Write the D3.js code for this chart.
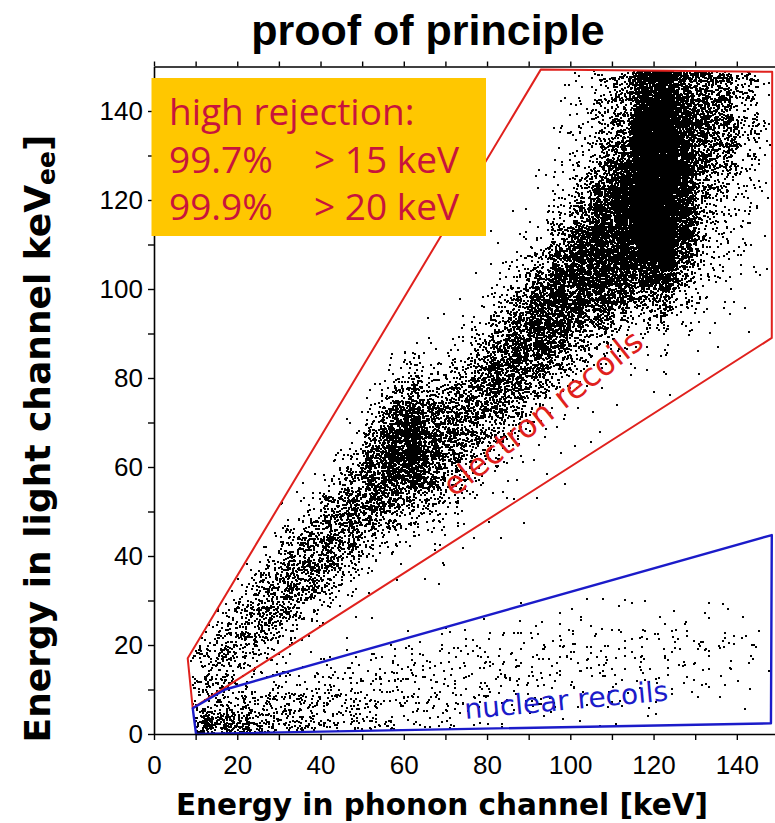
<!DOCTYPE html>
<html>
<head>
<meta charset="utf-8">
<script src="https://cdn.jsdelivr.net/npm/d3@7"></script>
<style>
  body { margin: 0; background: #fff; }
  svg { display: block; }
</style>
</head>
<body>
<svg id="chart" width="775" height="823"></svg>
<script>
// ---- axes ----------------------------------------------------------------
const tickKeV  = [0, 10, 20, 30, 40, 50, 60, 70, 80, 90, 100, 110, 120, 130, 140];
const labelKeV = [0, 20, 40, 60, 80, 100, 120, 140];

// ---- event density, 5 keV x 5 keV bins --------------------------------------
// Electron-recoil band: for each phonon bin (column) the first light bin that
// holds events and the event counts of the consecutive light bins above it.
const binKeV = 5;
const electronStart = [0, 1, 1, 2, 2, 3, 3, 4, 4, 4, 5, 6, 6, 6, 7, 8, 8, 9, 10, 11,
                       12, 13, 14, 15, 15, 16, 17, 17, 18, 20];
const electronCounts = [
  [],
  [5, 6, 3],
  [10, 40, 32, 9],
  [38, 52, 38, 14, 3],
  [4, 32, 65, 58, 22, 4],
  [10, 55, 80, 65, 28, 5],
  [2, 14, 58, 88, 76, 38, 10, 2],
  [2, 16, 72, 96, 76, 32, 8, 2],
  [1, 4, 28, 80, 108, 90, 44, 12, 3],
  [1, 1, 4, 26, 75, 108, 104, 60, 18, 4],
  [1, 1, 5, 26, 65, 128, 160, 128, 55, 13, 3],
  [1, 1, 10, 42, 115, 190, 230, 200, 110, 32, 6],
  [1, 1, 4, 18, 65, 215, 330, 320, 200, 72, 17, 4],
  [1, 1, 3, 11, 38, 88, 130, 130, 90, 38, 11, 3, 1],
  [1, 1, 4, 16, 44, 82, 110, 100, 62, 22, 7, 3, 1],
  [1, 1, 4, 12, 40, 82, 115, 105, 66, 26, 8, 3, 1],
  [1, 1, 1, 4, 14, 48, 100, 145, 145, 100, 42, 14, 5, 2, 1],
  [1, 1, 1, 4, 14, 48, 105, 162, 175, 126, 58, 18, 5, 3, 1],
  [1, 1, 1, 4, 14, 52, 120, 186, 210, 175, 90, 30, 8, 4, 3, 1],
  [1, 1, 1, 4, 14, 52, 120, 198, 240, 210, 132, 52, 15, 7, 5, 3, 3, 2, 1],
  [1, 1, 1, 4, 14, 48, 120, 210, 265, 250, 185, 90, 36, 18, 13, 9, 7, 6],
  [1, 1, 1, 5, 22, 95, 175, 250, 300, 290, 220, 145, 80, 45, 34, 28, 24],
  [1, 1, 1, 7, 30, 108, 215, 320, 370, 370, 320, 220, 110, 75, 62, 54],
  [1, 2, 5, 20, 70, 200, 480, 720, 800, 820, 820, 780, 640, 300, 240],
  [1, 2, 5, 22, 90, 260, 560, 850, 900, 900, 900, 880, 760, 500, 420],
  [1, 2, 6, 22, 60, 130, 260, 300, 300, 300, 290, 260, 200, 170],
  [1, 2, 6, 13, 22, 30, 38, 55, 110, 145, 150, 135, 120],
  [1, 1, 3, 6, 10, 13, 17, 27, 50, 82, 100, 95, 82],
  [1, 1, 2, 5, 6, 9, 13, 18, 27, 34, 34, 30],
  [1, 1, 1, 2, 3, 4, 4, 5, 5, 5]
];
// Nuclear-recoil band: counts of the light bins 0-30 keV for each phonon bin.
const nuclearCounts = [
  [0, 0, 0, 0, 0, 0], [10, 3, 0, 0, 0, 0], [140, 18, 1, 0, 0, 0], [120, 26, 3, 0, 0, 0],
  [90, 30, 5, 0, 0, 0], [58, 30, 7, 0, 0, 0], [44, 30, 10, 1, 0, 0], [34, 28, 11, 2, 0, 0],
  [26, 25, 12, 3, 0, 0], [20, 22, 13, 4, 0, 0], [16, 19, 13, 5, 0, 0], [12, 16, 13, 6, 1, 0],
  [9, 14, 12, 7, 1, 0], [8, 12, 11, 7, 2, 0], [6, 10, 11, 8, 2, 0], [5, 9, 10, 8, 3, 0],
  [4, 8, 10, 8, 3, 1], [3, 6, 9, 9, 4, 1], [2, 5, 8, 9, 4, 1], [2, 4, 7, 9, 5, 1],
  [1, 3, 7, 8, 5, 2], [1, 2, 6, 8, 5, 2], [1, 2, 6, 8, 5, 2], [1, 2, 5, 8, 5, 2],
  [0, 1, 5, 8, 6, 2], [0, 1, 4, 7, 5, 2], [0, 1, 4, 7, 5, 2], [0, 1, 3, 6, 5, 2],
  [0, 1, 2, 5, 4, 1], [0, 0, 1, 1, 1, 0]
];

// ---- acceptance regions (phonon keV, light keV) -----------------------------
const electronBox = [[8.1, 17], [92.9, 149.3], [148.5, 148.8], [148.4, 89], [9.3, 5.8]];
const nuclearBox  = [[9.3, 5.8], [17.1, 10], [148.4, 44.7], [148.2, 2.4], [10.1, 0]];
const gapRegion   = [[9.3, 5.8], [148.4, 89], [148.4, 44.7], [17.1, 10]];

// ---- scales ----------------------------------------------------------------
const x = d3.scaleLinear().domain([0, 150]).range([154, 778.45]);
const y = d3.scaleLinear().domain([0, 150]).range([734, 66.5]);

const svg = d3.select("#chart");

// Deterministic placement of each bin's events inside the bin: an integer
// hash gives the offsets, summed in pairs (tent shape) so that neighbouring
// bins blend into each other.
function hash01(i) {
  let h = Math.imul(i ^ 0x9e3779b9, 0x85ebca6b);
  h ^= h >>> 13; h = Math.imul(h, 0xc2b2ae35); h ^= h >>> 16;
  h = Math.imul(h ^ (h >>> 15), 0x2c1b3c6d); h ^= h >>> 12;
  return (h >>> 0) / 4294967296;
}
const spread = 0.75;
let seq = 0;
const events = [];
function fillBin(col, row, count) {
  for (let k = 0; k < count; k++, seq++) {
    const u = [0, 1, 2, 3].map(d => hash01(seq * 4 + d + 1));
    events.push([
      (col + 0.5 + (u[0] + u[1] - 1) * spread) * binKeV,
      (row + 0.5 + (u[2] + u[3] - 1) * spread) * binKeV
    ]);
  }
}
electronCounts.forEach((list, col) =>
  list.forEach((c, k) => fillBin(col, electronStart[col] + k, c)));
nuclearCounts.forEach((list, col) =>
  list.forEach((c, row) => fillBin(col, row, c)));

// only events inside the recorded region are drawn
const poly = p => p.map(d => [x(d[0]), y(d[1])].join(",")).join(" ");
const defs = svg.append("defs");
const clip = defs.append("clipPath").attr("id", "recorded");
[electronBox, nuclearBox, gapRegion].forEach(p => clip.append("polygon").attr("points", poly(p)));

let dPath = "";
for (const e of events) {
  const px = Math.round(x(e[0])) - 1, py = Math.round(y(e[1])) - 1;
  dPath += `M${px},${py}h2v2h-2z`;
}
svg.append("path")
  .attr("d", dPath)
  .attr("fill", "#000")
  .attr("shape-rendering", "crispEdges")
  .attr("clip-path", "url(#recorded)");

// acceptance region outlines
svg.append("polygon").attr("points", poly(electronBox))
  .attr("fill", "none").attr("stroke", "#e0211d").attr("stroke-width", 2)
  .attr("stroke-linejoin", "round");
svg.append("polygon").attr("points", poly(nuclearBox))
  .attr("fill", "none").attr("stroke", "#1b1bc9").attr("stroke-width", 2.4)
  .attr("stroke-linejoin", "round");

// ---- axes ------------------------------------------------------------------
const fmt = d => labelKeV.includes(d) ? d : "";
function styleAxis(g) {
  g.select(".domain").attr("stroke", "#000").attr("stroke-width", 1.6);
  g.selectAll(".tick line").attr("stroke", "#000").attr("stroke-width", 1.4);
  g.selectAll(".tick text").attr("fill", "#000")
    .attr("font-family", "'Liberation Sans', Arial, sans-serif").attr("font-size", 26);
}
svg.append("g").attr("transform", `translate(${x(0)},0)`)
  .call(d3.axisLeft(y).tickValues(tickKeV).tickFormat(fmt).tickSize(6).tickSizeOuter(0).tickPadding(5))
  .call(styleAxis);
svg.append("g").attr("transform", `translate(0,${y(0)})`)
  .call(d3.axisBottom(x).tickValues(tickKeV).tickFormat(fmt).tickSize(6).tickSizeOuter(0).tickPadding(16))
  .call(styleAxis);
svg.append("g").attr("transform", `translate(0,${y(150)})`)
  .call(d3.axisTop(x).tickValues(tickKeV).tickFormat("").tickSize(5).tickSizeOuter(0))
  .call(styleAxis);

// ---- rejection box ---------------------------------------------------------
svg.append("rect").attr("x", 151.5).attr("y", 78).attr("width", 334.5).attr("height", 158)
  .attr("fill", "#ffc700");
const boxText = svg.append("g").attr("fill", "#c8143c")
  .attr("font-family", "'Open Sans', 'Noto Sans', sans-serif").attr("font-size", 37);
boxText.append("text").attr("x", 169).attr("y", 125).text("high rejection:");
boxText.append("text").attr("x", 169).attr("y", 172.5).text("99.7%");
boxText.append("text").attr("x", 314).attr("y", 172.5).text("> 15 keV");
boxText.append("text").attr("x", 169).attr("y", 220).text("99.9%");
boxText.append("text").attr("x", 314).attr("y", 220).text("> 20 keV");

// ---- region labels ---------------------------------------------------------
svg.append("text")
  .attr("transform", "translate(543,413) rotate(-38.5)")
  .attr("text-anchor", "middle").attr("dominant-baseline", "central")
  .attr("font-family", "'DejaVu Sans', sans-serif").attr("font-size", 32)
  .attr("fill", "#e0211d").text("electron recoils");
svg.append("text")
  .attr("transform", "translate(567,709.7) rotate(-5.25)")
  .attr("text-anchor", "middle")
  .attr("font-family", "'DejaVu Sans', sans-serif").attr("font-size", 28)
  .attr("fill", "#1b1bc9").text("nuclear recoils");

// ---- titles ----------------------------------------------------------------
svg.append("text").attr("x", 428).attr("y", 45).attr("text-anchor", "middle")
  .attr("font-family", "'Liberation Sans', Arial, sans-serif").attr("font-weight", "bold")
  .attr("font-size", 43).text("proof of principle");
svg.append("text").attr("x", 442).attr("y", 815).attr("text-anchor", "middle")
  .attr("font-family", "'DejaVu Sans', sans-serif").attr("font-weight", "bold")
  .attr("font-size", 29.5).text("Energy in phonon channel [keV]");
const yTitle = svg.append("text")
  .attr("transform", "translate(50,438.5) rotate(-90)").attr("text-anchor", "middle")
  .attr("font-family", "'DejaVu Sans', sans-serif").attr("font-weight", "bold")
  .attr("font-size", 36);
yTitle.append("tspan").text("Energy in light channel keV");
yTitle.append("tspan").attr("font-size", 25).attr("dy", 5).text("ee");
yTitle.append("tspan").attr("dy", -5).text("]");
</script>
</body>
</html>
